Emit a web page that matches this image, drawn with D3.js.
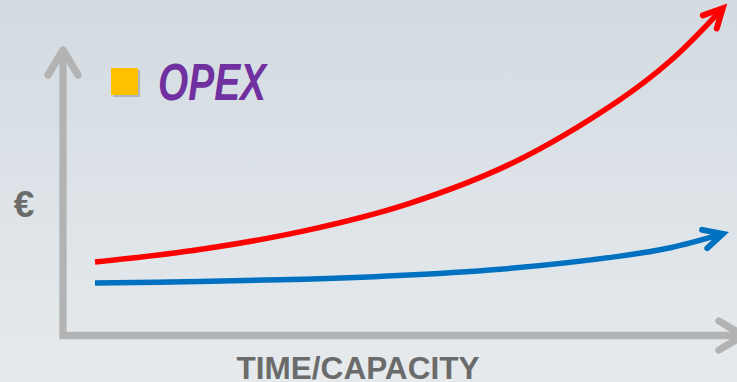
<!DOCTYPE html>
<html>
<head>
<meta charset="utf-8">
<script src="https://cdn.jsdelivr.net/npm/d3@7"></script>
<style>
  html, body { margin: 0; padding: 0; overflow: hidden; }
  svg { display: block; }
</style>
</head>
<body>
<svg id="chart" width="737" height="382"></svg>
<script>
// Cost growth over time / capacity (index values)
const steps = [0, 2, 4, 6, 8, 10, 11, 12];
const costHigh = [24.3, 28.5, 34.7, 43.8, 57.5, 78.0, 91.4, 108.9];
const costLow = [17.3, 17.8, 18.6, 20.0, 22.3, 26.2, 29.1, 33.7];
const legendLabel = "OPEX";
const yAxisLabel = "€";
const xAxisLabel = "TIME/CAPACITY";

const W = 737, H = 382;
const svg = d3.select("#chart");

// background wash
const defs = svg.append("defs");
const grad = defs.append("linearGradient")
  .attr("id", "bg").attr("x1", 0).attr("y1", 0).attr("x2", 0).attr("y2", 1);
grad.append("stop").attr("offset", "0%").attr("stop-color", "#d3dbe1");
grad.append("stop").attr("offset", "100%").attr("stop-color", "#e6eaed");
svg.append("rect").attr("width", W).attr("height", H).attr("fill", "url(#bg)");

const x = d3.scaleLinear().domain([0, 12]).range([95, 722.7]);
const y = d3.scaleLinear().domain([0, 110]).range([335, 5]);

// axes drawn as thick arrows
const axisColor = "#b3b3b3";
const ox = 63, oy = 335.5;
svg.append("path")
  .attr("d", `M${ox},51 L${ox},${oy} L743,${oy}`)
  .attr("fill", "none").attr("stroke", axisColor)
  .attr("stroke-width", 7.3).attr("stroke-linejoin", "miter");
// y arrow head
svg.append("path")
  .attr("d", `M48,75 L${ox},50 L78,75`)
  .attr("fill", "none").attr("stroke", axisColor)
  .attr("stroke-width", 7.3).attr("stroke-linecap", "round").attr("stroke-linejoin", "round");
// x arrow head
svg.append("path")
  .attr("d", `M719,321 L743,${oy} L719,350`)
  .attr("fill", "none").attr("stroke", axisColor)
  .attr("stroke-width", 7.3).attr("stroke-linecap", "round").attr("stroke-linejoin", "round");

// series curves
const line = d3.line()
  .x((d, i) => x(steps[i]))
  .y(d => y(d))
  .curve(d3.curveCatmullRom.alpha(0.5));

function drawSeries(values, color, width, armLen, spread) {
  const p = svg.append("path")
    .attr("d", line(values))
    .attr("fill", "none").attr("stroke", color)
    .attr("stroke-width", width);
  const node = p.node();
  const L = node.getTotalLength();
  const tip = node.getPointAtLength(L);
  const back = node.getPointAtLength(L - 10);
  const ang = Math.atan2(back.y - tip.y, back.x - tip.x);
  const a1 = ang + spread, a2 = ang - spread;
  const pA = [tip.x + armLen * Math.cos(a1), tip.y + armLen * Math.sin(a1)];
  const pB = [tip.x + armLen * Math.cos(a2), tip.y + armLen * Math.sin(a2)];
  svg.append("path")
    .attr("d", `M${pA[0]},${pA[1]} L${tip.x},${tip.y} L${pB[0]},${pB[1]}`)
    .attr("fill", "none").attr("stroke", color)
    .attr("stroke-width", width + 0.5)
    .attr("stroke-linecap", "round").attr("stroke-linejoin", "miter");
}
drawSeries(costHigh, "#ff0000", 5.5, 21, 0.47);
drawSeries(costLow, "#0070c0", 5.5, 21, 0.47);

// legend
svg.append("rect").attr("x", 113).attr("y", 70).attr("width", 27).attr("height", 27)
  .attr("fill", "#9a9a9a").attr("opacity", 0.6);
svg.append("rect").attr("x", 111).attr("y", 68).attr("width", 27).attr("height", 27)
  .attr("fill", "#ffc000");
svg.append("text")
  .attr("x", 158).attr("y", 100)
  .attr("font-family", "Liberation Sans, Arial, sans-serif")
  .attr("font-weight", "bold").attr("font-style", "italic")
  .attr("font-size", 51)
  .attr("textLength", 108).attr("lengthAdjust", "spacingAndGlyphs")
  .attr("fill", "#7030a0")
  .text(legendLabel);

// axis titles
svg.append("text")
  .attr("x", 24).attr("y", 216.5)
  .attr("text-anchor", "middle")
  .attr("font-family", "Liberation Sans, Arial, sans-serif")
  .attr("font-weight", "bold").attr("font-size", 37)
  .attr("fill", "#6b6b6b")
  .text(yAxisLabel);
svg.append("text")
  .attr("x", 236.5).attr("y", 378.5)
  .attr("font-family", "Liberation Sans, Arial, sans-serif")
  .attr("font-weight", "bold").attr("font-size", 31.5)
  .attr("textLength", 243).attr("lengthAdjust", "spacingAndGlyphs")
  .attr("fill", "#6b6b6b")
  .text(xAxisLabel);
</script>
</body>
</html>
